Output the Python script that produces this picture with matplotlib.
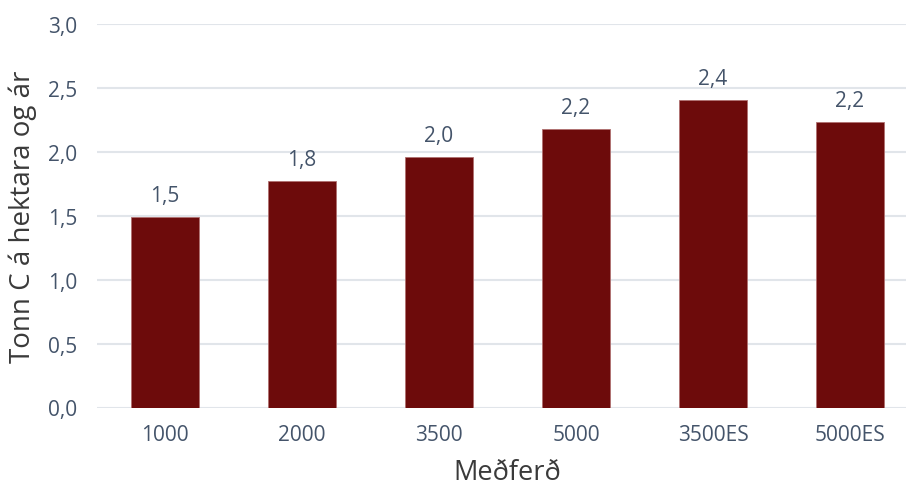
import matplotlib
matplotlib.use("Agg")
import matplotlib.pyplot as plt

# Kolefnisbinding eftir meðferð
categories = ["1000", "2000", "3500", "5000", "3500ES", "5000ES"]
values = [1.486, 1.77, 1.957, 2.173, 2.405, 2.23]
y_ticks = [0.0, 0.5, 1.0, 1.5, 2.0, 2.5, 3.0]

text_color = "#44546a"
title_color = "#3a3a3a"
bar_color = "#6d0b0b"
grid_color = "#e1e5ea"

plt.rcParams["font.family"] = ["Open Sans", "DejaVu Sans"]

fig = plt.figure(figsize=(9.06, 4.85), dpi=100)
ax = fig.add_axes([96.5 / 906, 76.5 / 485, 822 / 906, 384 / 485])

x = range(len(categories))
ax.bar(x, values, width=0.5, color=bar_color, edgecolor="#b07070",
       linewidth=0.6, zorder=3)

for xi, v in zip(x, values):
    ax.annotate(f"{v:.1f}".replace(".", ","), xy=(xi, v), xytext=(0, 11.5),
                textcoords="offset points", ha="center", va="baseline",
                fontsize=15, color=text_color)

ax.set_xlim(-0.5, len(categories) - 0.5)
ax.set_ylim(0, 3.0)
ax.set_yticks(y_ticks)
ax.set_yticklabels([f"{t:.1f}".replace(".", ",") for t in y_ticks])
ax.set_xticks(list(x))
ax.set_xticklabels(categories)

ax.grid(axis="y", color=grid_color, linewidth=1.5, zorder=0)
ax.set_axisbelow(True)
for s in ax.spines.values():
    s.set_visible(False)
ax.tick_params(axis="both", length=0, labelsize=15, labelcolor=text_color)
ax.tick_params(axis="x", pad=12)
ax.tick_params(axis="y", pad=14)

ax.set_xlabel("Meðferð", fontsize=19.5, color=title_color, labelpad=9)
ax.set_ylabel("Tonn C á hektara og ár", fontsize=20, color=title_color, labelpad=8)

fig.savefig("out.png", dpi=100)
